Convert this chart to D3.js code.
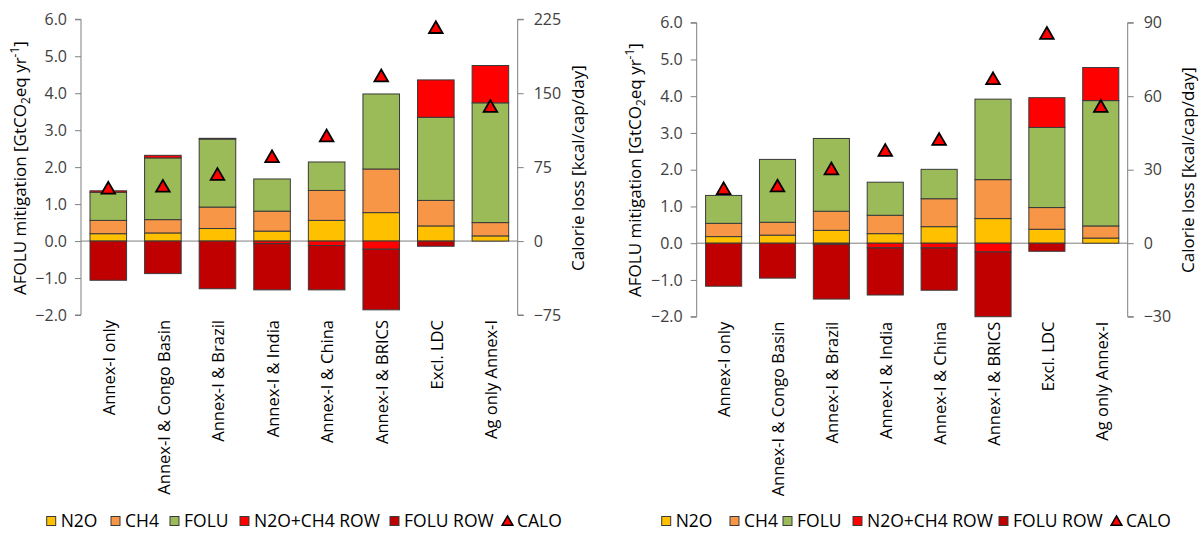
<!DOCTYPE html>
<html><head><meta charset="utf-8">
<script src="https://cdn.jsdelivr.net/npm/d3@7"></script>
<style>body{margin:0;background:#fff}svg{display:block}</style>
</head><body><svg id="c" width="1203" height="533"></svg>
<script>
const categories = ["Annex-I only","Annex-I & Congo Basin","Annex-I & Brazil","Annex-I & India","Annex-I & China","Annex-I & BRICS","Excl. LDC","Ag only Annex-I"];
const seriesNames = ["N2O","CH4","FOLU","N2O+CH4 ROW","FOLU ROW"];
const seriesColors = ["#FFC000","#F79646","#9BBB59","#FF0000","#C00000"];

// left panel
const leftN2O    = [0.20, 0.22, 0.34, 0.27, 0.56, 0.77, 0.41, 0.14];
const leftCH4    = [0.36, 0.36, 0.58, 0.54, 0.81, 1.18, 0.69, 0.36];
const leftFOLU   = [0.76, 1.67, 1.84, 0.87, 0.77, 2.03, 2.25, 3.24];
const leftRowGas = [0.04, 0.07, 0.02, -0.07, -0.12, -0.22, 1.01, 1.01];
const leftRowFOLU= [-1.06, -0.88, -1.29, -1.25, -1.20, -1.64, -0.14, 0];
const leftCALO   = [54, 56, 68, 86, 107, 168, 217, 137];

// right panel
const rightN2O    = [0.18, 0.22, 0.35, 0.26, 0.45, 0.67, 0.38, 0.14];
const rightCH4    = [0.36, 0.35, 0.52, 0.50, 0.76, 1.06, 0.59, 0.33];
const rightFOLU   = [0.76, 1.71, 1.98, 0.90, 0.80, 2.19, 2.18, 3.41];
const rightRowGas = [0, 0, -0.03, -0.13, -0.13, -0.24, 0.81, 0.90];
const rightRowFOLU= [-1.17, -0.95, -1.49, -1.28, -1.15, -1.76, -0.22, 0];
const rightCALO   = [22.4, 23.5, 30.5, 38, 42.5, 67.3, 85.8, 56];

const mitigationTicks = [-2, -1, 0, 1, 2, 3, 4, 5, 6];
const leftCaloTicks = [-75, 0, 75, 150, 225];
const rightCaloTicks = [-30, 0, 30, 60, 90];

const FONT = "'Open Sans', sans-serif";
const svg = d3.select("#c");

function drawPanel(cfg) {
  const g = svg.append("g");
  const x = d3.scaleBand().domain(categories).range([cfg.x0, cfg.x1]).paddingInner(0.33).paddingOuter(0.165);
  const y = d3.scaleLinear().domain([-2, 6]).range([cfg.yBot, cfg.yTop]);
  const y2 = d3.scaleLinear().domain([cfg.caloTicks[0], cfg.caloTicks[cfg.caloTicks.length-1]]).range([cfg.yBot, cfg.yTop]);

  // stacked bars
  const rects = [];
  categories.forEach((c, i) => {
    let pos = 0, neg = 0;
    cfg.series.forEach((s, k) => {
      const v = s[i];
      if (v === 0) return;
      let a, b;
      if (v > 0) { a = pos; b = pos + v; pos = b; }
      else { a = neg; b = neg + v; neg = b; }
      b = Math.max(b, -2);
      rects.push({c, a, b, color: seriesColors[k]});
    });
  });

  // zero line (behind bars)
  g.append("line").attr("x1", cfg.x0).attr("x2", cfg.x1)
    .attr("y1", y(0)).attr("y2", y(0)).attr("stroke", "#7f7f7f").attr("stroke-width", 1);

  g.selectAll("rect.bar").data(rects).join("rect").attr("class", "bar")
    .attr("x", d => x(d.c)).attr("width", x.bandwidth())
    .attr("y", d => y(Math.max(d.a, d.b)))
    .attr("height", d => Math.abs(y(d.a) - y(d.b)))
    .attr("fill", d => d.color).attr("stroke", "#3a3a3a").attr("stroke-width", 1);

  // left axis
  const axL = d3.axisLeft(y).tickValues(mitigationTicks).tickFormat(d3.format(".1f")).tickSize(6).tickPadding(8);
  const gL = g.append("g").attr("transform", `translate(${cfg.x0},0)`).call(axL);
  // right axis
  const axR = d3.axisRight(y2).tickValues(cfg.caloTicks).tickSize(6).tickPadding(10);
  const gR = g.append("g").attr("transform", `translate(${cfg.x1},0)`).call(axR);
  [gL, gR].forEach(ax => {
    ax.select(".domain").attr("stroke", "#7f7f7f");
    ax.selectAll(".tick line").attr("stroke", "#7f7f7f");
    ax.selectAll(".tick text").attr("fill", "#404040").style("font-family", FONT).style("font-size", "16px");
  });
  gL.select(".domain").attr("d", `M-6,${cfg.yTop}H0V${cfg.yBot}H-6`);
  gR.select(".domain").attr("d", `M6,${cfg.yTop}H0V${cfg.yBot}H6`);

  // triangles (CALO)
  const sym = d3.symbol().type(d3.symbolTriangle).size(80);
  g.selectAll("path.calo").data(cfg.calo).join("path").attr("class", "calo")
    .attr("d", sym)
    .attr("transform", (d, i) => `translate(${x(categories[i]) + x.bandwidth()/2},${y2(d) + 1.9})`)
    .attr("fill", "#FF0000").attr("stroke", "#000").attr("stroke-width", 1.8);

  // category labels
  g.selectAll("text.cat").data(categories).join("text").attr("class", "cat")
    .attr("transform", d => `translate(${x(d) + x.bandwidth()/2 + 1},${cfg.yBot + 5}) rotate(-90)`)
    .attr("text-anchor", "end").attr("dy", "0.35em")
    .style("font-family", FONT).style("font-size", "16.5px").attr("fill", "#000")
    .text(d => d);

  // left title
  const tl = g.append("text")
    .attr("transform", `translate(${cfg.titleLX},${cfg.titleY}) rotate(-90)`)
    .attr("text-anchor", "middle").attr("dy", "0.35em")
    .style("font-family", FONT).style("font-size", "17px").attr("fill", "#000");
  tl.append("tspan").text("AFOLU mitigation [GtCO");
  tl.append("tspan").attr("dy", 4).style("font-size", "12px").text("2");
  tl.append("tspan").attr("dy", -4).text("eq yr");
  tl.append("tspan").attr("dy", -7).style("font-size", "12px").text("-1");
  tl.append("tspan").attr("dy", 7).text("]");

  // right title
  g.append("text")
    .attr("transform", `translate(${cfg.titleRX},${cfg.titleY}) rotate(-90)`)
    .attr("text-anchor", "middle").attr("dy", "0.35em")
    .style("font-family", FONT).style("font-size", "17px").attr("fill", "#000")
    .text("Calorie loss [kcal/cap/day]");

  // legend
  const lg = g.append("g");
  seriesNames.forEach((n, k) => {
    const lx = cfg.legendX[k];
    lg.append("rect").attr("x", lx).attr("y", cfg.legendY - 4.5).attr("width", 9).attr("height", 9)
      .attr("fill", seriesColors[k]).attr("stroke", "#3a3a3a").attr("stroke-width", 1);
    lg.append("text").attr("x", lx + 14).attr("y", cfg.legendY).attr("dy", "0.35em")
      .style("font-family", FONT).style("font-size", "17.5px").attr("fill", "#000").text(n);
  });
  const tx = cfg.legendX[5];
  lg.append("path").attr("d", d3.symbol().type(d3.symbolTriangle).size(50))
    .attr("transform", `translate(${tx + 5.5},${cfg.legendY + 1.2})`)
    .attr("fill", "#FF0000").attr("stroke", "#000").attr("stroke-width", 1.5);
  lg.append("text").attr("x", tx + 15).attr("y", cfg.legendY).attr("dy", "0.35em")
    .style("font-family", FONT).style("font-size", "17.5px").attr("fill", "#000").text("CALO");
}

drawPanel({
  x0: 81, x1: 517.7, yTop: 19.3, yBot: 315,
  series: [leftN2O, leftCH4, leftFOLU, leftRowGas, leftRowFOLU],
  calo: leftCALO, caloTicks: leftCaloTicks,
  titleLX: 20.5, titleRX: 578, titleY: 168,
  legendX: [46.7, 111, 170, 240, 390, 502], legendY: 521
});
drawPanel({
  x0: 696.7, x1: 1127.7, yTop: 22.7, yBot: 316.7,
  series: [rightN2O, rightCH4, rightFOLU, rightRowGas, rightRowFOLU],
  calo: rightCALO, caloTicks: rightCaloTicks,
  titleLX: 635, titleRX: 1188, titleY: 170,
  legendX: [661.7, 730, 783, 853, 999, 1111], legendY: 521
});
</script></body></html>
